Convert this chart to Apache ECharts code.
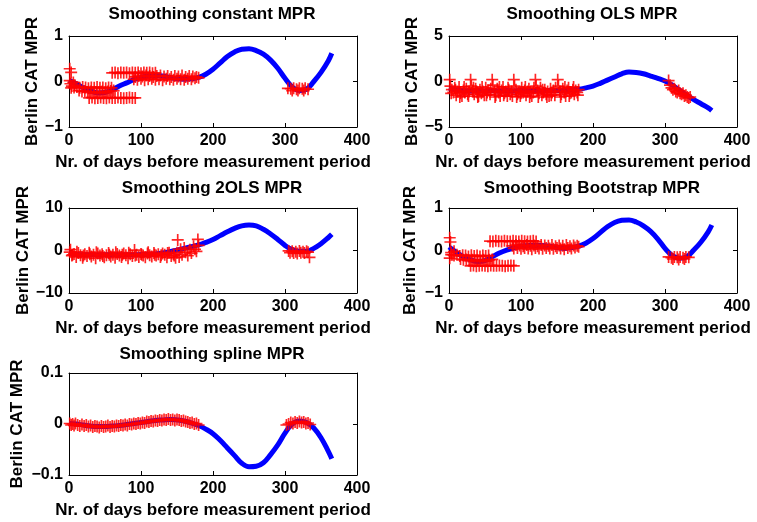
<!DOCTYPE html>
<html>
<head>
<meta charset="utf-8">
<script src="https://cdn.jsdelivr.net/npm/echarts@6/dist/echarts.min.js"></script>
<style>
    html, body { margin: 0; padding: 0; background: #ffffff; }
    #chart { width: 757px; height: 522px; }
</style>
</head>
<body>
<div id="chart"></div>
<script>
const curveDays = [0, 10, 20, 30, 40, 50, 60, 70, 80, 90, 100, 110, 120, 130, 140, 150, 160, 170, 180,
    190, 200, 210, 220, 230, 240, 250, 260, 270, 280, 290, 300, 310, 320, 330, 340, 350, 360, 365];

const constCurve = [0.03, -0.05, -0.14, -0.21, -0.25, -0.24, -0.18, -0.1, -0.03, 0.04, 0.09, 0.12, 0.13, 0.12, 0.09, 0.06, 0.05, 0.06, 0.09,
    0.16, 0.27, 0.41, 0.55, 0.65, 0.71, 0.72, 0.68, 0.6, 0.47, 0.29, 0.07, -0.12, -0.2, -0.17, 0.0, 0.2, 0.45, 0.62];
const olsCurve = [-0.7, -0.95, -1.0, -1.05, -1.0, -1.05, -1.0, -1.05, -1.0, -1.05, -1.0, -1.05, -1.0, -1.05, -1.0, -1.0, -0.95, -0.9, -0.85,
    -0.7, -0.5, -0.2, 0.15, 0.5, 0.85, 1.05, 1.0, 0.85, 0.6, 0.35, 0.05, -0.4, -0.95, -1.5, -2.0, -2.45, -2.9, -3.2];
const twoOlsCurve = [-0.7, -0.9, -1.0, -1.0, -1.05, -1.0, -1.0, -1.05, -1.0, -1.0, -0.95, -0.9, -0.8, -0.6, -0.3, 0.1, 0.5, 0.9, 1.3,
    1.9, 2.6, 3.5, 4.4, 5.2, 5.8, 6.0, 5.8, 5.0, 3.9, 2.6, 1.2, 0.2, -0.2, -0.2, 0.5, 1.6, 3.0, 3.8];
const bootCurve = [0.08, -0.04, -0.15, -0.22, -0.26, -0.24, -0.15, -0.06, 0.01, 0.06, 0.1, 0.12, 0.12, 0.12, 0.1, 0.07, 0.05, 0.07, 0.1,
    0.17, 0.28, 0.42, 0.56, 0.66, 0.71, 0.72, 0.67, 0.58, 0.45, 0.27, 0.05, -0.12, -0.18, -0.15, 0.01, 0.2, 0.44, 0.6];
const splineCurve = [0.001, 0.0, -0.002, -0.004, -0.005, -0.005, -0.004, -0.003, -0.001, 0.001, 0.003, 0.005, 0.007, 0.008, 0.009, 0.008, 0.006, 0.002, -0.003,
    -0.01, -0.019, -0.032, -0.047, -0.062, -0.077, -0.084, -0.083, -0.076, -0.06, -0.041, -0.018, 0.0, 0.006, 0.003, -0.008, -0.027, -0.053, -0.068];

// observed MPR values [day, value]
const constPoints = [
    [1, 0.28], [3, 0.2], [1, 0.02], [2, -0.05], [4, -0.1], [6, -0.02], [8, -0.08],
    [3, -0.14], [7, -0.13], [11, -0.12], [15, -0.14], [19, -0.12], [23, -0.13], [27, -0.15], [31, -0.13], [35, -0.14],
    [39, -0.12], [43, -0.14], [47, -0.13], [51, -0.15], [55, -0.13], [59, -0.14],
    [14, -0.2], [18, -0.22], [22, -0.21], [26, -0.24], [30, -0.22], [34, -0.25], [38, -0.23], [42, -0.25], [46, -0.22],
    [50, -0.24], [54, -0.22], [58, -0.21], [62, -0.2],
    [28, -0.36], [32, -0.35], [36, -0.37], [40, -0.36], [44, -0.35], [48, -0.36], [52, -0.37], [56, -0.35], [60, -0.36],
    [64, -0.36], [68, -0.35], [72, -0.36], [76, -0.37], [80, -0.36], [84, -0.35], [88, -0.36], [92, -0.36],
    [60, 0.19], [64, 0.2], [68, 0.18], [72, 0.2], [76, 0.19], [80, 0.2], [84, 0.18], [88, 0.2], [92, 0.19], [96, 0.2],
    [100, 0.18], [104, 0.2], [108, 0.19], [112, 0.2], [116, 0.18], [120, 0.19],
    [92, 0.1], [97, 0.12], [102, 0.11], [107, 0.13], [112, 0.12], [117, 0.1], [122, 0.12], [127, 0.13], [132, 0.11],
    [137, 0.12], [142, 0.1], [147, 0.12], [152, 0.11], [157, 0.13], [162, 0.1], [167, 0.12], [172, 0.11], [177, 0.1],
    [90, 0.05], [95, 0.04], [100, 0.06], [105, 0.03], [110, 0.05], [115, 0.06], [120, 0.04], [125, 0.05], [130, 0.03],
    [135, 0.06], [140, 0.05], [145, 0.04], [150, 0.06], [155, 0.05], [160, 0.04], [165, 0.06], [170, 0.05], [175, 0.07], [180, 0.08],
    [304, -0.15], [308, -0.16], [312, -0.15], [316, -0.17], [320, -0.15], [324, -0.16], [328, -0.15], [332, -0.17],
    [310, -0.2], [318, -0.2], [326, -0.2]
];
const olsPoints = [
    [1, 0.2], [2, -0.5], [4, -0.9], [6, -1.2], [8, -0.7], [10, -1.5], [12, -1.1], [14, -0.6], [16, -1.3], [18, -1.6], [20, -1.0], [22, -1.2], [24, -0.8], [26, -1.4], [28, -1.1],
    [30, 0.2], [31, -0.5], [33, -1.0], [35, -1.4], [37, -0.8], [39, -1.2], [41, -1.6], [43, -0.9], [45, -1.3], [47, -1.1], [49, -1.5], [51, -0.7], [53, -1.2], [55, -1.0], [57, -1.4],
    [60, 0.2], [61, -0.4], [63, -1.1], [65, -1.5], [67, -0.8], [69, -1.2], [71, -1.6], [73, -1.0], [75, -0.6], [77, -1.3], [79, -1.1], [81, -1.6], [83, -0.9], [85, -1.4], [87, -1.1],
    [90, 0.2], [91, -0.5], [93, -0.9], [95, -1.4], [97, -1.2], [99, -1.6], [101, -0.7], [103, -1.2], [105, -1.0], [107, -1.5], [109, -1.1], [111, -0.8], [113, -1.3], [115, -1.6], [117, -1.2],
    [120, 0.2], [121, -0.5], [123, -1.0], [125, -1.3], [127, -0.7], [129, -1.5], [131, -1.2], [133, -0.9], [135, -1.4], [137, -1.1], [139, -1.6], [141, -0.8], [143, -1.2], [145, -1.0], [147, -1.5],
    [151, 0.2], [152, -0.5], [154, -1.1], [156, -1.4], [158, -0.8], [160, -1.2], [162, -1.6], [164, -1.0], [166, -0.7], [168, -1.3], [170, -1.2], [172, -0.9], [174, -1.4], [176, -1.0], [178, -1.2], [180, -0.9],
    [3, -1.3], [9, -0.9], [15, -1.7], [21, -0.6], [27, -1.6], [34, -0.7], [40, -1.7], [46, -0.6], [52, -1.5], [58, -0.8],
    [64, -1.7], [70, -0.6], [76, -1.5], [82, -0.7], [88, -1.6], [94, -1.7], [100, -1.3], [106, -0.6], [112, -1.7], [118, -0.7],
    [124, -1.7], [130, -0.9], [136, -1.7], [142, -1.5], [148, -0.7], [155, -1.7], [161, -0.6], [167, -1.6], [173, -0.6], [179, -1.5],
    [305, 0.1], [307, -0.4], [309, -0.7], [311, -0.9], [313, -0.8], [315, -1.1], [317, -1.2], [319, -1.0], [321, -1.3],
    [323, -1.4], [325, -1.3], [327, -1.6], [329, -1.5], [331, -1.7], [333, -1.8], [335, -1.7]
];
const twoOlsPoints = [
    [1, -0.4], [2, 0.2], [4, -1.2], [7, -0.8], [10, -1.5], [13, -0.6], [16, -1.1], [19, -1.7], [22, -0.9], [25, -1.3], [28, -0.5],
    [31, -1.4], [34, -1.0], [37, -1.8], [40, -0.7], [43, -1.2], [46, -0.9], [49, -1.6], [52, -1.1], [55, -0.6], [58, -1.4],
    [61, -1.0], [64, -1.7], [67, -0.8], [70, -1.2], [73, -1.5], [76, -0.7], [79, -1.1], [82, -1.8], [85, -0.9], [88, -1.3],
    [91, 0.1], [94, -1.0], [97, -1.5], [100, -0.8], [103, -1.2], [106, -1.6], [109, -0.7], [112, -1.1], [115, -1.4], [118, -0.6],
    [121, -1.2], [124, -0.9], [127, -1.5], [130, -0.7], [133, -1.0], [136, -1.6], [139, -0.5], [142, -1.3], [145, -0.9], [148, -1.7],
    [5, -1.0], [11, -0.3], [20, -1.2], [29, -0.9], [38, -0.4], [47, -1.3], [56, -1.0], [65, -0.4], [74, -1.0], [83, -0.5],
    [92, -1.2], [101, -1.0], [110, -0.4], [119, -1.0], [128, -1.1], [137, -0.6], [146, -1.2],
    [151, 2.5], [150, -0.5], [153, -1.5], [155, 0.3], [157, -1.0], [160, 0.6], [162, -0.4], [165, -1.2], [168, 0.2],
    [170, -0.6], [173, 1.0], [175, 0.3], [177, -0.2], [179, 2.6], [180, 1.2],
    [305, -0.1], [307, -0.5], [310, -0.2], [312, -0.6], [315, -0.3], [317, -0.7], [320, -0.1], [322, -0.5], [325, -0.3],
    [327, -0.6], [330, -0.2], [332, -0.4], [334, -1.6]
];
const bootPoints = [
    [1, 0.3], [2, 0.2], [1, -0.18], [3, -0.05], [5, -0.1], [7, -0.02],
    [3, -0.1], [7, -0.12], [11, -0.1], [15, -0.13], [19, -0.11], [23, -0.12], [27, -0.14], [31, -0.11], [35, -0.13],
    [39, -0.12], [43, -0.14], [47, -0.12], [51, -0.13], [55, -0.12],
    [16, -0.2], [20, -0.22], [24, -0.21], [28, -0.24], [32, -0.22], [36, -0.25], [40, -0.23], [44, -0.24], [48, -0.22],
    [52, -0.25], [56, -0.22], [60, -0.21],
    [30, -0.36], [34, -0.35], [38, -0.37], [42, -0.36], [46, -0.35], [50, -0.36], [54, -0.37], [58, -0.35], [62, -0.36],
    [66, -0.36], [70, -0.35], [74, -0.36], [78, -0.37], [82, -0.36], [86, -0.35], [90, -0.36],
    [57, 0.22], [61, 0.21], [65, 0.23], [69, 0.22], [73, 0.21], [77, 0.23], [81, 0.22], [85, 0.21], [89, 0.23], [93, 0.22],
    [97, 0.21], [101, 0.23], [105, 0.22], [109, 0.21], [113, 0.22], [117, 0.23], [121, 0.21],
    [88, 0.11], [93, 0.13], [98, 0.12], [103, 0.1], [108, 0.13], [113, 0.11], [118, 0.12], [123, 0.1], [128, 0.13],
    [133, 0.12], [138, 0.11], [143, 0.13], [148, 0.1], [153, 0.12], [158, 0.11], [163, 0.13], [168, 0.1], [173, 0.12], [178, 0.11],
    [90, 0.05], [95, 0.06], [100, 0.04], [105, 0.06], [110, 0.05], [115, 0.03], [120, 0.06], [125, 0.05], [130, 0.04],
    [135, 0.06], [140, 0.05], [145, 0.04], [150, 0.06], [155, 0.05], [160, 0.03], [165, 0.06], [170, 0.05], [175, 0.07], [180, 0.09],
    [305, -0.15], [309, -0.17], [313, -0.15], [317, -0.16], [321, -0.15], [325, -0.17], [329, -0.15], [333, -0.16],
    [311, -0.2], [319, -0.21], [327, -0.2]
];
const splinePoints = [
    [1, 0.001], [3, -0.002], [5, 0.0], [7, -0.003], [9, 0.001], [12, -0.002], [15, -0.004], [18, -0.001], [21, -0.004],
    [24, -0.002], [27, -0.005], [30, -0.003], [33, -0.006], [36, -0.004], [39, -0.005], [42, -0.007], [45, -0.004],
    [48, -0.006], [51, -0.005], [54, -0.003], [57, -0.006], [60, -0.004], [63, -0.005], [66, -0.003], [69, -0.004],
    [72, -0.002], [75, -0.003], [78, -0.001], [81, -0.003], [84, 0.0], [87, -0.001], [90, 0.001], [93, 0.0], [96, 0.002],
    [99, 0.001], [102, 0.003], [105, 0.002], [108, 0.005], [111, 0.004], [114, 0.006], [117, 0.005], [120, 0.007],
    [123, 0.006], [126, 0.008], [129, 0.007], [132, 0.009], [135, 0.008], [138, 0.01], [141, 0.008], [144, 0.009],
    [147, 0.007], [150, 0.009], [153, 0.008], [156, 0.006], [159, 0.007], [162, 0.005], [165, 0.004], [168, 0.002],
    [171, 0.003], [174, 0.0], [177, 0.001], [180, -0.002],
    [302, -0.002], [305, 0.0], [308, 0.003], [311, 0.001], [314, 0.004], [317, 0.002], [320, 0.005], [323, 0.003],
    [326, 0.004], [329, 0.001], [332, 0.002], [335, -0.001]
];

const panelTitles = ['Smoothing constant MPR', 'Smoothing OLS MPR', 'Smoothing 2OLS MPR', 'Smoothing Bootstrap MPR', 'Smoothing spline MPR'];
const panelCurves = [constCurve, olsCurve, twoOlsCurve, bootCurve, splineCurve];
const panelPoints = [constPoints, olsPoints, twoOlsPoints, bootPoints, splinePoints];
const yMins = [-1, -5, -10, -1, -0.1];
const yMaxs = [1, 5, 10, 1, 0.1];
const ySteps = [1, 5, 10, 1, 0.1];
const xMin = 0, xMax = 400, xStep = 100;
const xLabel = 'Nr. of days before measurement period';
const yLabel = 'Berlin CAT MPR';

// pixel layout of the MATLAB-style 3x2 subplot grid
const boxes = [
    { left: 69, top: 36, width: 288, height: 91, titleTop: 6, yGap: 28 },
    { left: 449, top: 36, width: 288, height: 91, titleTop: 6, yGap: 28 },
    { left: 69, top: 208, width: 288, height: 85, titleTop: 180, yGap: 30 },
    { left: 449, top: 208, width: 288, height: 85, titleTop: 180, yGap: 30 },
    { left: 69, top: 373, width: 288, height: 102, titleTop: 346, yGap: 43 }
];

const FONT = 'Liberation Sans, Arial, Helvetica, sans-serif';
// '+' marker drawn as a filled cross
const plusPath = 'path://M4.3,0H5.7V4.3H10V5.7H5.7V10H4.3V5.7H0V4.3H4.3Z';

function tickText(v) {
    return String(+Number(v).toFixed(3)).replace('-', '\u2212');
}

const textStyle = { fontFamily: FONT, fontWeight: 'bold', fontSize: 17, color: '#000' };

const titles = [], grids = [], xAxes = [], yAxes = [], series = [];

boxes.forEach((b, i) => {
    titles.push({
        text: panelTitles[i],
        left: b.left + b.width / 2 - 1,
        top: b.titleTop,
        textAlign: 'center',
        padding: 0,
        textStyle: textStyle
    });
    grids.push({ left: b.left, top: b.top, width: b.width, height: b.height, containLabel: false });
});

// primary axes (bottom / left, with labels)
boxes.forEach((b, i) => {
    xAxes.push({
        type: 'value', gridIndex: i, position: 'bottom',
        min: xMin, max: xMax, interval: xStep,
        name: xLabel, nameLocation: 'middle', nameGap: 27,
        nameTextStyle: textStyle,
        axisLine: { onZero: false, lineStyle: { color: '#000', width: 1 } },
        axisTick: { inside: true, length: 4, lineStyle: { color: '#000' } },
        axisLabel: { margin: 6, fontFamily: FONT, fontWeight: 'bold', fontSize: 16, color: '#000', formatter: tickText },
        splitLine: { show: false }
    });
    yAxes.push({
        type: 'value', gridIndex: i, position: 'left',
        min: yMins[i], max: yMaxs[i], interval: ySteps[i],
        name: yLabel, nameLocation: 'middle', nameGap: b.yGap,
        nameTextStyle: textStyle,
        axisLine: { onZero: false, lineStyle: { color: '#000', width: 1 } },
        axisTick: { inside: true, length: 4, lineStyle: { color: '#000' } },
        axisLabel: { margin: 6, fontFamily: FONT, fontWeight: 'bold', fontSize: 16, color: '#000', formatter: tickText },
        splitLine: { show: false }
    });
});

// mirror axes (top / right) to close the box, ticks only
boxes.forEach((b, i) => {
    xAxes.push({
        type: 'value', gridIndex: i, position: 'top',
        min: xMin, max: xMax, interval: xStep,
        axisLine: { onZero: false, lineStyle: { color: '#000', width: 1 } },
        axisTick: { inside: true, length: 4, lineStyle: { color: '#000' } },
        axisLabel: { show: false },
        splitLine: { show: false }
    });
    yAxes.push({
        type: 'value', gridIndex: i, position: 'right',
        min: yMins[i], max: yMaxs[i], interval: ySteps[i],
        axisLine: { onZero: false, lineStyle: { color: '#000', width: 1 } },
        axisTick: { inside: true, length: 4, lineStyle: { color: '#000' } },
        axisLabel: { show: false },
        splitLine: { show: false }
    });
});

panelCurves.forEach((curve, i) => {
    series.push({
        type: 'line', xAxisIndex: i, yAxisIndex: i,
        data: curveDays.map((d, k) => [d, curve[k]]),
        smooth: 0.4, showSymbol: false, symbol: 'none',
        lineStyle: { color: '#0000ff', width: 5 },
        silent: true, animation: false, z: 2
    });
    series.push({
        type: 'scatter', xAxisIndex: i, yAxisIndex: i,
        data: panelPoints[i],
        symbol: plusPath, symbolSize: 12,
        itemStyle: { color: '#ff0000', opacity: 0.85 },
        clip: false, silent: true, animation: false, z: 3
    });
});

const chart = echarts.init(document.getElementById('chart'), null, { renderer: 'canvas' });
chart.setOption({
    backgroundColor: '#ffffff',
    animation: false,
    title: titles,
    grid: grids,
    xAxis: xAxes,
    yAxis: yAxes,
    series: series
});
</script>
</body>
</html>
